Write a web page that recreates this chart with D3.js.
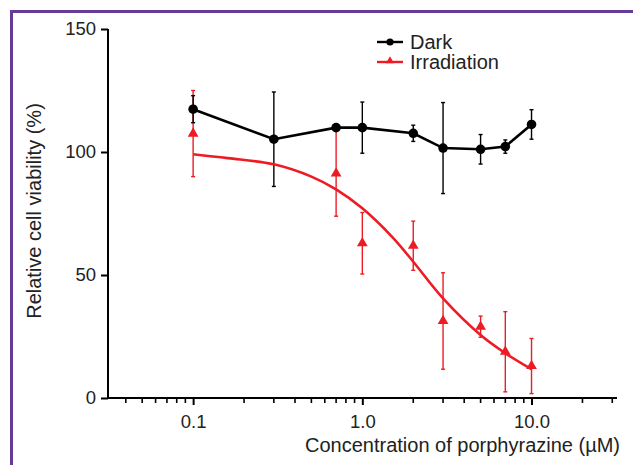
<!DOCTYPE html>
<html>
<head>
<meta charset="utf-8">
<script src="https://cdn.jsdelivr.net/npm/d3@7"></script>
<style>
  body { margin: 0; background: #fff; }
  svg { display: block; font-family: "Liberation Sans", Arial, sans-serif; }
</style>
</head>
<body>
<svg id="chart" width="633" height="465"></svg>
<script>
// concentrations (uM)
const conc = [0.1, 0.3, 0.7, 1.0, 2.0, 3.0, 5.0, 7.0, 10.0];
// Dark series mean / sd
const darkMean = [117.4, 105.2, 109.9, 109.9, 107.6, 101.6, 101.1, 102.2, 111.2];
const darkSd   = [5.5, 19.2, 0, 10.4, 3.3, 18.5, 6, 2.7, 6];
// Irradiation series mean / sd
const irrMean = [107.5, null, 91.3, 62.9, 61.9, 31.3, 29.0, 18.8, 13.0];
const irrSd   = [17.5, null, 17.4, 12.5, 10, 19.6, 4.3, 16.3, 11.2];
// fitted curve
const fitX = [0.1, 0.16, 0.3, 0.5, 0.7, 1.0, 1.5, 2.0, 3.0, 5.0, 7.0, 10.0];
const fitY = [99.1, 97.5, 95.0, 90.0, 84.8, 77.1, 65.5, 55.4, 40.5, 25.6, 18.2, 11.7];

const yTicks = [0, 50, 100, 150];
const xTicks = [0.1, 1, 10];
const xTickLabels = ["0.1", "1.0", "10.0"];
const minorTicks = [0.04,0.05,0.06,0.07,0.08,0.09,0.2,0.3,0.4,0.5,0.6,0.7,0.8,0.9,
                    2,3,4,5,6,7,8,9,20,30];

const red = "#ed1c24";
const svg = d3.select("#chart");

// purple frame (top + left)
svg.append("line").attr("x1", 10).attr("x2", 633).attr("y1", 11.5).attr("y2", 11.5)
  .attr("stroke", "#673c98").attr("stroke-width", 3);
svg.append("line").attr("x1", 11.5).attr("x2", 11.5).attr("y1", 10).attr("y2", 465)
  .attr("stroke", "#673c98").attr("stroke-width", 3);

const x = d3.scaleLog().domain([0.0314, 32]).range([108, 617]);
const y = d3.scaleLinear().domain([0, 150]).range([398, 29]);

// y axis
const yAx = svg.append("g").attr("transform", "translate(108,0)")
  .call(d3.axisLeft(y).tickValues(yTicks).tickSize(7).tickPadding(5).tickSizeOuter(0));
yAx.select(".domain").attr("stroke-width", 2).attr("d", `M0,${y(150)}V${y(0)}`);
yAx.selectAll(".tick line").attr("stroke-width", 2);
yAx.selectAll("text").attr("font-size", 18.5).attr("fill", "#222")
  .attr("font-family", "Liberation Sans, Arial, sans-serif");

// x axis
const xAx = svg.append("g").attr("transform", "translate(0,398)")
  .call(d3.axisBottom(x).tickValues(xTicks).tickFormat((d, i) => xTickLabels[i])
    .tickSize(7).tickPadding(10).tickSizeOuter(0));
xAx.select(".domain").attr("stroke-width", 2).attr("d", `M107,0H617`);
xAx.selectAll(".tick line").attr("stroke-width", 2);
xAx.selectAll("text").attr("font-size", 18.5).attr("fill", "#222")
  .attr("font-family", "Liberation Sans, Arial, sans-serif");
xAx.selectAll(".minor").data(minorTicks).enter().append("line")
  .attr("x1", d => x(d)).attr("x2", d => x(d)).attr("y1", 0).attr("y2", 5)
  .attr("stroke", "#000").attr("stroke-width", 1.6);

// axis titles
svg.append("text").attr("x", 620).attr("y", 452).attr("text-anchor", "end")
  .attr("font-size", 20).attr("fill", "#222").text("Concentration of porphyrazine (\u00b5M)");
svg.append("text").attr("transform", "translate(41,211) rotate(-90)").attr("text-anchor", "middle")
  .attr("font-size", 20).attr("fill", "#222").text("Relative cell viability (%)");

// error bars
function errBars(means, sds, color) {
  const d = conc.map((c, i) => ({c, m: means[i], s: sds[i]})).filter(p => p.m != null && p.s > 0);
  const g = svg.append("g").attr("stroke", color).attr("stroke-width", 1.4);
  d.forEach(p => {
    g.append("line").attr("x1", x(p.c)).attr("x2", x(p.c))
      .attr("y1", y(p.m - p.s)).attr("y2", y(p.m + p.s));
    [p.m - p.s, p.m + p.s].forEach(v => {
      g.append("line").attr("x1", x(p.c) - 2).attr("x2", x(p.c) + 2)
        .attr("y1", y(v)).attr("y2", y(v));
    });
  });
}
errBars(irrMean, irrSd, red);
errBars(darkMean, darkSd, "#000");

// fitted curve
svg.append("path")
  .datum(fitX.map((c, i) => [c, fitY[i]]))
  .attr("fill", "none").attr("stroke", red).attr("stroke-width", 2.6)
  .attr("d", d3.line().x(d => x(d[0])).y(d => y(d[1])).curve(d3.curveCatmullRom));

const tri = d3.symbol().type(d3.symbolTriangle).size(50);
svg.append("g").selectAll("path")
  .data(conc.map((c, i) => [c, irrMean[i]]).filter(d => d[1] != null))
  .enter().append("path")
  .attr("d", tri).attr("fill", red)
  .attr("transform", d => `translate(${x(d[0])},${y(d[1])})`);

// dark line + points
svg.append("path")
  .datum(conc.map((c, i) => [c, darkMean[i]]))
  .attr("fill", "none").attr("stroke", "#000").attr("stroke-width", 2.6)
  .attr("d", d3.line().x(d => x(d[0])).y(d => y(d[1])));
svg.append("g").selectAll("circle")
  .data(conc.map((c, i) => [c, darkMean[i]]))
  .enter().append("circle")
  .attr("cx", d => x(d[0])).attr("cy", d => y(d[1])).attr("r", 4.8).attr("fill", "#000");

// legend
const lg = svg.append("g").attr("transform", "translate(377,42)");
lg.append("line").attr("x1", 0).attr("x2", 26).attr("y1", 0).attr("y2", 0)
  .attr("stroke", "#000").attr("stroke-width", 2.4);
lg.append("circle").attr("cx", 13).attr("cy", 0).attr("r", 3.6).attr("fill", "#000");
lg.append("text").attr("x", 33).attr("y", 7).attr("font-size", 20).attr("fill", "#222").text("Dark");
lg.append("line").attr("x1", 0).attr("x2", 26).attr("y1", 20).attr("y2", 20)
  .attr("stroke", red).attr("stroke-width", 2.4);
lg.append("path").attr("d", d3.symbol().type(d3.symbolTriangle).size(28))
  .attr("fill", red).attr("transform", "translate(13,19)");
lg.append("text").attr("x", 33).attr("y", 27).attr("font-size", 20).attr("fill", "#222").text("Irradiation");
</script>
</body>
</html>
